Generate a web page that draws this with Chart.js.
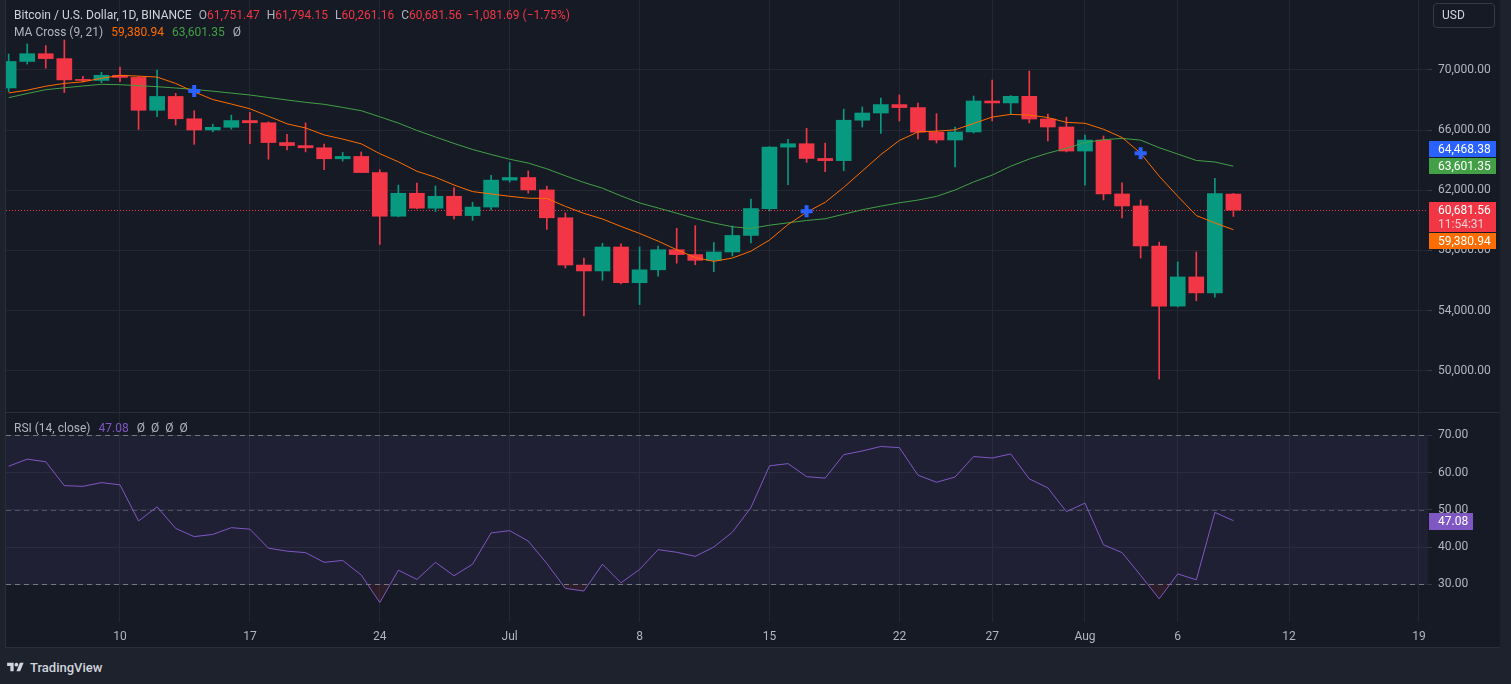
<!DOCTYPE html>
<html>
<head>
<meta charset="utf-8">
<script src="https://cdn.jsdelivr.net/npm/chart.js@4.4.1/dist/chart.umd.min.js"></script>
<style>
html,body{margin:0;padding:0;width:1511px;height:684px;background:#1e222d;overflow:hidden;font-family:Roboto,"Liberation Sans",Arial,sans-serif;}
#widget{position:absolute;left:6px;top:0;width:1494px;height:648px;background:#161a25;}
#mainWrap{position:absolute;left:0;top:0;width:1494px;height:412px;}
#sep{position:absolute;left:0;top:412px;width:1494px;height:1px;background:#2a2e39;}
#rsiWrap{position:absolute;left:0;top:413px;width:1494px;height:235px;}
#bottomLine{position:absolute;left:6px;top:647px;width:1494px;height:1px;background:#2a2e39;}
#leftLine{position:absolute;left:5px;top:0;width:1px;height:648px;background:#2a2e39;}
.lg{position:absolute;left:8px;font-size:12px;line-height:14px;white-space:nowrap;color:#b2b5be;}
.lg span{display:inline-block;}
.sym{color:#d1d4dc;}
.k{margin-left:7px;color:#b2b5be;}
.red{color:#f23645;}
.gap{margin-left:8px;}
#usd{position:absolute;left:1433px;top:3px;width:62px;height:25px;border:1px solid #363a45;border-radius:4px;box-sizing:border-box;color:#d1d4dc;font-size:12px;line-height:23px;padding-left:8px;}
#tv{position:absolute;left:6px;top:658px;height:18px;display:flex;align-items:center;color:#d1d4dc;font-size:13px;font-weight:500;}
#tv svg{margin-right:5px;}
</style>
</head>
<body>
<div id="widget">
  <div id="mainWrap"><canvas id="mainCanvas"></canvas></div>
  <div id="sep"></div>
  <div id="rsiWrap"><canvas id="rsiCanvas"></canvas></div>
  <div class="lg" style="top:8px">
    <span class="sym">Bitcoin / U.S. Dollar, 1D, BINANCE</span><span class="k">O</span><span class="red">61,751.47</span><span class="k">H</span><span class="red">61,794.15</span><span class="k">L</span><span class="red">60,261.16</span><span class="k">C</span><span class="red">60,681.56</span><span class="red" style="margin-left:5px">−1,081.69 (−1.75%)</span>
  </div>
  <div class="lg" style="top:25px">
    <span>MA Cross (9, 21)</span><span class="gap" style="color:#ff6d00">59,380.94</span><span class="gap" style="color:#43a047">63,601.35</span><span class="gap">Ø</span>
  </div>
  <div class="lg" style="top:421px">
    <span>RSI (14, close)</span><span class="gap" style="color:#7e57c2">47.08</span><span class="gap">Ø</span><span style="margin-left:6px">Ø</span><span style="margin-left:6px">Ø</span><span style="margin-left:6px">Ø</span>
  </div>
</div>
<div id="leftLine"></div>
<div id="bottomLine"></div>
<div id="usd">USD</div>
<div id="tv">
  <svg width="19" height="13" viewBox="0 0 36 28"><path d="M14 22H7V11H0V4h14v18zM28 22h-8l7.5-18h8L28 22z" fill="#d1d4dc"/><circle cx="20" cy="8" r="4" fill="#d1d4dc"/></svg>
  <span>TradingView</span>
</div>
<script>
// ---- Data (index 0 = 4 Jun 2024, daily candles to 9 Aug 2024) ----
const openP = [68804,70567,71082,70757,69342,69306,69648,69508,67321,68241,
  66756,66011,66191,66639,66491,65175,64974,64828,64097,64253,
  63180,60277,61804,60811,61604,60320,60887,62678,62851,62029,
  60173,57031,56639,58231,55857,56714,58051,57725,57344,57899,
  59000,60787,64870,65097,64118,63974,66660,67139,67700,67500,
  65870,65345,65880,67940,67810,68250,66740,66210,64610,65340,
  61760,60960,58300,54300,56240,55180,61751.47];
const highP = [71063,71735,71625,71997,69582,69850,70195,69563,69999,68449,
  67294,66400,66999,67188,66556,65727,66482,65066,64520,64550,
  63370,62350,62480,62293,62176,61200,63000,63850,63288,62272,
  60498,57500,58475,58449,58236,58296,59470,59650,58526,59630,
  61420,64900,65388,66128,65133,67400,67540,68130,68340,67800,
  67100,66200,68270,69330,68300,69930,67070,66860,65680,65610,
  62490,61360,58560,57240,57900,62800,61794.15];
const lowP = [68564,70390,70119,68500,69209,69160,69230,66051,66902,66340,
  65056,65888,66060,65094,64066,64693,64559,63379,63944,63221,
  58402,60239,60765,60585,60100,60000,60700,62550,61812,59400,
  56835,53650,56018,55780,54400,56289,57157,57050,56590,57630,
  58500,60632,62378,63855,63238,63300,66210,65777,66610,65412,
  65150,63550,65810,66610,67070,66480,65280,64550,62350,61360,
  60160,57500,49450,54250,54660,54900,60261.16];
const closeP = [70567,71082,70757,69342,69306,69648,69508,67321,68241,66756,
  66011,66191,66639,66491,65175,64974,64828,64097,64253,63180,
  60277,61804,60811,61604,60320,60887,62678,62851,62029,60173,
  57031,56639,58231,55857,56714,58051,57725,57344,57899,59000,
  60787,64870,65097,64118,63974,66660,67139,67700,67500,65870,
  65345,65880,67940,67810,68250,66740,66210,64610,65340,61760,
  60960,58300,54300,56240,55180,61780,60681.56];
const ma9 = [68476,68658,68921,69108,69214,69449,69642,69593,69530,69107,
  68543,68036,67736,67423,66926,66422,66145,65685,65407,65092,
  64435,63898,63267,62870,62353,61915,61757,61601,61473,61462,
  60932,60468,60093,59597,59134,58620,58050,57529,57277,57496,
  57956,58694,59721,60543,61202,62194,63283,64372,65316,65881,
  65934,66021,66445,66872,67048,67004,66838,66517,66458,66060,
  65513,64468,62941,61607,60322,59830,59380.94];
const ma21 = [68158,68437,68690,68816,68936,69049,69023,68956,68890,68803,
  68710,68590,68464,68338,68171,68005,67852,67719,67512,67294,
  66888,66471,65981,65546,65116,64715,64383,64066,63814,63430,
  62967,62521,62141,61628,61162,60823,60478,60122,59827,59577,
  59463,59681,59838,59995,60108,60410,60708,60947,61169,61351,
  61598,62019,62557,63013,63603,64081,64469,64797,65178,65362,
  65455,65337,64833,64412,63986,63882,63601.35];
const rsi = [61.7,63.6,62.9,56.5,56.3,57.3,56.7,47.0,50.8,45.0,
  42.8,43.4,45.2,44.8,39.7,38.9,38.5,35.9,36.4,32.5,
  25.1,33.8,31.3,35.9,32.3,35.4,43.8,44.4,41.6,35.6,
  28.9,28.2,35.4,30.4,34.0,39.3,38.6,37.5,40.0,44.0,
  50.6,61.8,62.4,58.9,58.5,64.8,65.8,67.0,66.7,59.3,
  57.4,58.8,64.3,63.9,65.0,58.3,55.9,49.5,51.8,40.6,
  38.5,32.4,26.1,32.8,31.2,49.3,47.08];
const crossDays = [10, 43, 61];
const crossValues = [68600, 60600, 64468.38];
const tickDays = [6, 13, 20, 27, 34, 41, 48, 53, 58, 63, 69, 76];
const tickLabels = ["10","17","24","Jul","8","15","22","27","Aug","6","12","19"];
const priceTicks = [50000, 54000, 58000, 62000, 66000, 70000];
const rsiTicks = [30, 40, 50, 60, 70];
const rsiLevels = [70, 50, 30];
const countdown = "11:54:31";

// ---- Styling / layout constants ----
const FONT = 'Roboto, "Liberation Sans", Arial, sans-serif';
const GRID = '#232733';
const TICKC = '#363a45';
const UP = '#089981', DOWN = '#f23645';
const X_MIN = -0.143, X_MAX = 76.486;
const AXIS_W = 72;
Chart.defaults.font.family = FONT;
Chart.defaults.font.size = 12;
Chart.defaults.color = '#b2b5be';

const candleColors = closeP.map((c, i) => c >= openP[i] ? UP : DOWN);
const fmt2 = v => Number(v).toLocaleString('en-US', {minimumFractionDigits: 2, maximumFractionDigits: 2});
const last = closeP.length - 1;

function noPad(s) { s.paddingTop = 0; s.paddingBottom = 0; s.paddingLeft = 0; s.paddingRight = 0; }

function xScale(showLabels) {
  return {
    type: 'linear', min: X_MIN, max: X_MAX, offset: false,
    afterBuildTicks: s => { s.ticks = tickDays.map(v => ({value: v})); },
    afterFit: s => { s.height = showLabels ? 26 : 0; noPad(s); },
    ticks: {display: showLabels, autoSkip: false, maxRotation: 0, padding: 8, color: '#b2b5be',
      font: {size: 12}, callback: v => { const k = tickDays.indexOf(v); return k >= 0 ? tickLabels[k] : ''; }},
    grid: {color: GRID, drawTicks: false, offset: false},
    border: {display: false}
  };
}

function box(ctx, x, top, w, h, bg) {
  ctx.fillStyle = bg;
  ctx.fillRect(x, top, w, h);
}

const priceLabelPlugin = {
  id: 'priceLabels',
  beforeDatasetsDraw(chart) {
    const {ctx, chartArea, scales: {y}} = chart;
    const py = Math.round(y.getPixelForValue(closeP[last])) + 0.5;
    ctx.save();
    ctx.strokeStyle = DOWN; ctx.lineWidth = 1; ctx.setLineDash([1, 2]);
    ctx.beginPath(); ctx.moveTo(chartArea.left, py); ctx.lineTo(chartArea.right, py); ctx.stroke();
    ctx.restore();
  },
  afterDraw(chart) {
    const {ctx, chartArea, scales: {y}} = chart;
    const items = [
      {v: closeP[last], bg: DOWN, h: 30, sub: countdown},
      {v: ma9[last], bg: '#ff6d00', h: 16},
      {v: ma21[last], bg: '#43a047', h: 16},
      {v: crossValues[crossValues.length - 1], bg: '#2962ff', h: 16}
    ];
    const placed = [];
    items.forEach(it => {
      it.py = y.getPixelForValue(it.v);
      it.top = it.py - 8;
      for (let pass = 0; pass < 4; pass++) {
        for (const o of placed) {
          if (it.top < o.top + o.h && it.top + it.h > o.top) {
            if (it.py < o.top + o.h / 2) it.top = o.top - 1 - it.h; else it.top = o.top + o.h + 1;
          }
        }
      }
      placed.push(it);
    });
    const x0 = chartArea.right + 1;
    ctx.save();
    ctx.font = '12px ' + FONT;
    ctx.textBaseline = 'middle';
    ctx.textAlign = 'left';
    placed.forEach(it => {
      box(ctx, x0, Math.round(it.top), 67, it.h, it.bg);
      ctx.fillStyle = '#ffffff';
      ctx.fillText(fmt2(it.v), chartArea.right + 10, Math.round(it.top) + 8.5);
      if (it.sub) {
        ctx.fillStyle = 'rgba(255,255,255,0.75)';
        ctx.fillText(it.sub, chartArea.right + 10, Math.round(it.top) + 22.5);
      }
    });
    ctx.restore();
  }
};

new Chart(document.getElementById('mainCanvas'), {
  type: 'line',
  data: {
    datasets: [
      {type: 'line', label: 'Cross', data: crossDays.map((d, k) => ({x: d, y: crossValues[k]})), showLine: false,
        pointStyle: 'cross', pointRadius: 6, pointBorderWidth: 4, pointBorderColor: '#2962ff', borderColor: '#2962ff', order: 1},
      {type: 'line', label: 'MA 9', data: ma9.map((v, i) => ({x: i, y: v})), borderColor: '#ff6d00', borderWidth: 1,
        pointRadius: 0, tension: 0, order: 2},
      {type: 'line', label: 'MA 21', data: ma21.map((v, i) => ({x: i, y: v})), borderColor: '#43a047', borderWidth: 1,
        pointRadius: 0, tension: 0, order: 2},
      {type: 'bar', label: 'Body', data: openP.map((o, i) => ({x: i, y: [o, closeP[i]]})), backgroundColor: candleColors,
        barThickness: 15, minBarLength: 1, grouped: false, borderWidth: 0, order: 3},
      {type: 'bar', label: 'Wick', data: lowP.map((l, i) => ({x: i, y: [l, highP[i]]})), backgroundColor: candleColors,
        barThickness: 1, grouped: false, borderWidth: 0, order: 4}
    ]
  },
  options: {
    responsive: true, maintainAspectRatio: false, animation: false, events: [],
    layout: {padding: 0, autoPadding: false},
    plugins: {legend: {display: false}, tooltip: {enabled: false}},
    scales: {
      x: xScale(false),
      y: {
        type: 'linear', position: 'right', min: 47260, max: 74654,
        afterBuildTicks: s => { s.ticks = priceTicks.map(v => ({value: v})); },
        afterFit: s => { s.width = AXIS_W; noPad(s); },
        ticks: {color: '#b2b5be', padding: 6, font: {size: 12}, callback: v => fmt2(v)},
        grid: {color: GRID, drawTicks: true, tickLength: 4, tickColor: TICKC},
        border: {display: false}
      }
    }
  },
  plugins: [priceLabelPlugin]
});

const rsiPlugin = {
  id: 'rsiBand',
  beforeDatasetsDraw(chart) {
    const {ctx, chartArea, scales: {y}} = chart;
    const yTop = y.getPixelForValue(70), yBot = y.getPixelForValue(30);
    ctx.save();
    ctx.fillStyle = 'rgba(126,87,194,0.1)';
    ctx.fillRect(chartArea.left, yTop, chartArea.right - chartArea.left, yBot - yTop);
    ctx.lineWidth = 1; ctx.setLineDash([5, 4]);
    rsiLevels.forEach(l => {
      ctx.strokeStyle = l === 50 ? 'rgba(120,123,134,0.55)' : 'rgba(120,123,134,0.95)';
      const py = Math.round(y.getPixelForValue(l)) + 0.5;
      ctx.beginPath(); ctx.moveTo(chartArea.left, py); ctx.lineTo(chartArea.right, py); ctx.stroke();
    });
    ctx.restore();
  },
  afterDraw(chart) {
    const {ctx, chartArea, scales: {y}} = chart;
    const v = rsi[rsi.length - 1];
    const py = Math.round(y.getPixelForValue(v));
    ctx.save();
    box(ctx, chartArea.right + 1, py - 8, 44, 17, '#7e57c2');
    ctx.fillStyle = '#ffffff';
    ctx.font = '12px ' + FONT;
    ctx.textBaseline = 'middle'; ctx.textAlign = 'left';
    ctx.fillText(fmt2(v), chartArea.right + 10, py + 0.5);
    ctx.restore();
  }
};

new Chart(document.getElementById('rsiCanvas'), {
  type: 'line',
  data: {
    datasets: [
      {label: 'RSI', data: rsi.map((v, i) => ({x: i, y: v})), borderColor: '#7e57c2', borderWidth: 1, pointRadius: 0,
        tension: 0, fill: {target: {value: 30}, above: 'rgba(0,0,0,0)', below: 'rgba(242,54,69,0.1)'}}
    ]
  },
  options: {
    responsive: true, maintainAspectRatio: false, animation: false, events: [],
    layout: {padding: 0, autoPadding: false},
    plugins: {legend: {display: false}, tooltip: {enabled: false}},
    scales: {
      x: xScale(true),
      y: {
        type: 'linear', position: 'right', min: 19.88, max: 75.99,
        afterBuildTicks: s => { s.ticks = rsiTicks.map(v => ({value: v})); },
        afterFit: s => { s.width = AXIS_W; noPad(s); },
        ticks: {color: '#b2b5be', padding: 6, font: {size: 12}, callback: v => fmt2(v)},
        grid: {color: GRID, drawTicks: true, tickLength: 4, tickColor: TICKC},
        border: {display: false}
      }
    }
  },
  plugins: [rsiPlugin]
});
</script>
</body>
</html>
